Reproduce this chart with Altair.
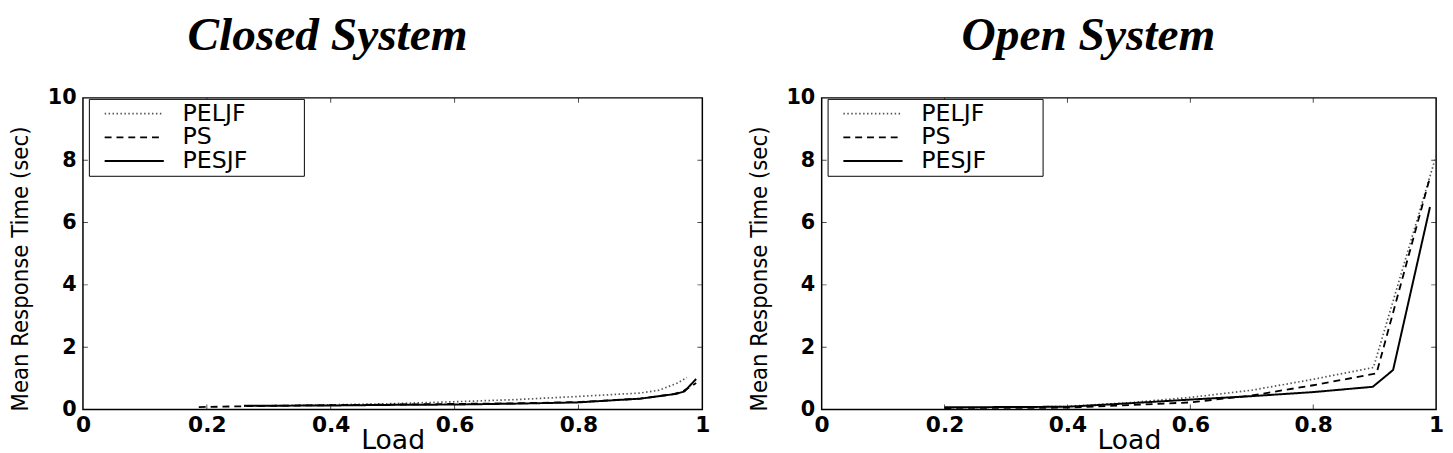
import altair as alt
import pandas as pd

policies = ["PELJF", "PS", "PESJF"]

# Closed system
closed_peljf_load = [0.26, 0.3, 0.4, 0.5, 0.6, 0.7, 0.8, 0.9, 0.93, 0.96, 0.975]
closed_peljf_rt = [0.11, 0.12, 0.15, 0.19, 0.25, 0.32, 0.42, 0.53, 0.62, 0.85, 1.03]
closed_ps_load = [0.187, 0.3, 0.4, 0.5, 0.6, 0.7, 0.8, 0.9, 0.955, 0.97, 0.99]
closed_ps_rt = [0.08, 0.12, 0.14, 0.16, 0.18, 0.2, 0.24, 0.35, 0.5, 0.6, 0.85]
closed_pesjf_load = [0.26, 0.4, 0.5, 0.6, 0.7, 0.8, 0.9, 0.957, 0.971, 0.99]
closed_pesjf_rt = [0.12, 0.13, 0.15, 0.16, 0.19, 0.23, 0.35, 0.5, 0.58, 0.98]

# Open system
open_peljf_load = [0.2, 0.4, 0.5, 0.6, 0.7, 0.8, 0.898, 1.0]
open_peljf_rt = [0.05, 0.1, 0.22, 0.39, 0.62, 0.97, 1.35, 8.15]
open_ps_load = [0.2, 0.4, 0.5, 0.6, 0.7, 0.8, 0.903, 0.99]
open_ps_rt = [0.05, 0.06, 0.14, 0.23, 0.45, 0.78, 1.16, 7.45]
open_pesjf_load = [0.2, 0.4, 0.5, 0.6, 0.7, 0.8, 0.897, 0.93, 0.99]
open_pesjf_rt = [0.07, 0.09, 0.2, 0.32, 0.43, 0.56, 0.73, 1.27, 6.5]

x_ticks = [0.2, 0.4, 0.6, 0.8]
y_ticks = [2, 4, 6, 8]
x_labels = [0, 0.2, 0.4, 0.6, 0.8, 1]
y_labels = [0, 2, 4, 6, 8, 10]


def series(loads, rts, policy):
    return pd.DataFrame({"load": loads, "rt": rts, "policy": policy})


closed_df = pd.concat([
    series(closed_peljf_load, closed_peljf_rt, "PELJF"),
    series(closed_ps_load, closed_ps_rt, "PS"),
    series(closed_pesjf_load, closed_pesjf_rt, "PESJF"),
])
open_df = pd.concat([
    series(open_peljf_load, open_peljf_rt, "PELJF"),
    series(open_ps_load, open_ps_rt, "PS"),
    series(open_pesjf_load, open_pesjf_rt, "PESJF"),
])

xticks_df = pd.DataFrame([(t, e) for t in x_ticks for e in (0, 10)], columns=["load", "rt"])
yticks_df = pd.DataFrame([(e, t) for t in y_ticks for e in (0, 1)], columns=["load", "rt"])

xscale = alt.Scale(domain=[0, 1], nice=False, zero=False)
yscale = alt.Scale(domain=[0, 10], nice=False)

LABEL_FONT = "DejaVu Sans"
PAD = "\u00a0" * 7 + "\u200b"


def panel(df, title, dx, width):
    x = alt.X("load:Q", scale=xscale,
              axis=alt.Axis(values=x_labels, format="~g", title="Load",
                            labelFont=LABEL_FONT, labelFontSize=22, labelFontWeight="bold",
                            labelColor="black", labelPadding=5, labelFlush=False,
                            ticks=False, domain=False, grid=False,
                            titleFont=LABEL_FONT, titleFontSize=27, titleFontWeight="normal",
                            titleColor="black", titlePadding=-7))
    y = alt.Y("rt:Q", scale=yscale,
              axis=alt.Axis(values=y_labels, title="Mean Response Time (sec)",
                            labelFont=LABEL_FONT, labelFontSize=21, labelFontWeight="bold",
                            labelColor="black", labelPadding=7,
                            ticks=False, domain=False, grid=False,
                            titleFont="Liberation Sans Narrow, DejaVu Sans Condensed, sans-serif",
                            titleFontSize=24, titleFontWeight="normal", titleColor="black",
                            titlePadding=15, titleY=173))
    lines = alt.Chart(df).mark_line(clip=True).encode(
        x=x, y=y,
        strokeDash=alt.StrokeDash("policy:N",
                                  scale=alt.Scale(domain=policies, range=[[1.5, 2.5], [7, 5], [1, 0]]),
                                  legend=alt.Legend(title=None, orient="none", legendX=6, legendY=1,
                                                    strokeColor="black", fillColor="white",
                                                    padding=3, symbolType="M0.1,0H6.1", symbolSize=400,
                                                    labelFont=LABEL_FONT, labelFontSize=24,
                                                    labelColor="black", labelOffset=68,
                                                    labelExpr="datum.label + '" + PAD + "'",
                                                    rowPadding=0, cornerRadius=0)),
        color=alt.Color("policy:N", scale=alt.Scale(domain=policies, range=["#555555", "black", "black"])),
        strokeWidth=alt.StrokeWidth("policy:N", scale=alt.Scale(domain=policies, range=[1.7, 2, 2])),
    )
    xt = alt.Chart(xticks_df).mark_tick(orient="vertical", size=10, thickness=1, color="black", clip=True).encode(
        x=alt.X("load:Q", scale=xscale), y=alt.Y("rt:Q", scale=yscale))
    yt = alt.Chart(yticks_df).mark_tick(orient="horizontal", size=10, thickness=1, color="black", clip=True).encode(
        x=alt.X("load:Q", scale=xscale), y=alt.Y("rt:Q", scale=yscale))
    return alt.layer(xt, yt, lines).properties(
        width=width, height=316,
        title=alt.TitleParams(title, font="Liberation Serif", fontStyle="italic", fontWeight="bold",
                              fontSize=48, color="black", anchor="middle", dx=dx, offset=28),
    )


left = panel(closed_df, "Closed System", -66, 628)
right = panel(open_df, "Open System", -41, 623)

chart = alt.hconcat(left, right, spacing=121, bounds="flush").resolve_scale(
    strokeDash="independent", color="independent", strokeWidth="independent"
).configure(padding=0, background="white").configure_view(stroke="black", strokeWidth=1.5)

chart.save("out.html", embed_options={"renderer": "svg", "actions": False})
